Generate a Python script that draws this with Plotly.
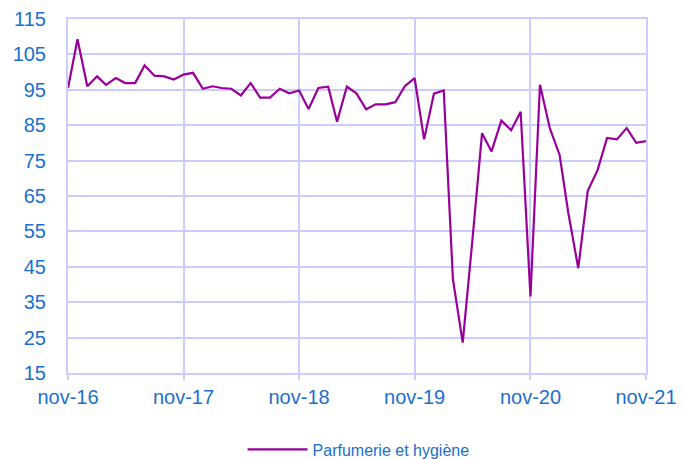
import plotly.graph_objects as go
import pandas as pd

months = pd.date_range("2016-11-01", "2021-11-01", freq="MS")
values = [
    95.5, 109.3,
    96.0, 98.8, 96.4, 98.3, 96.9, 96.9, 101.9, 99.0, 98.8, 97.9, 99.3, 99.8,
    95.3, 96.0, 95.5, 95.3, 93.4, 96.9, 92.8, 92.8, 95.3, 94.0, 94.8, 89.6,
    95.5, 95.9, 86.0, 95.9, 94.0, 89.5, 90.9, 90.9, 91.5, 96.0, 98.3, 81.0,
    93.9, 94.8, 41.5, 23.6, 52.0, 82.7, 77.6, 86.3, 83.6, 88.8, 36.6, 96.4,
    84.2, 76.6, 60.0, 44.6, 66.5, 72.3, 81.4, 81.0, 84.2, 80.0, 80.5,
]
series_name = "Parfumerie et hygiène"
x_tickvals = ["2016-11-01", "2017-11-01", "2018-11-01", "2019-11-01", "2020-11-01", "2021-11-01"]
x_ticktext = ["nov-16", "nov-17", "nov-18", "nov-19", "nov-20", "nov-21"]
y_tickvals = [15, 25, 35, 45, 55, 65, 75, 85, 95, 105, 115]

grid = "#ccccff"
blue = "#1a6fcf"
purple = "#990099"

fig = go.Figure()
fig.add_trace(go.Scatter(
    x=months, y=values, mode="lines", name=series_name,
    line=dict(color=purple, width=2.2),
))

# the page body adds an 8px margin, so the figure is 8px smaller and shifted
fig.update_layout(
    width=676, height=451,
    margin=dict(l=60, r=38, t=11, b=86, autoexpand=False),
    paper_bgcolor="white", plot_bgcolor="white",
    font=dict(family="Liberation Sans, Arial, sans-serif", color=blue),
    showlegend=True,
    legend=dict(
        orientation="h", x=0.302, xanchor="left", y=-0.168, yanchor="top",
        font=dict(size=16, color=blue), bgcolor="rgba(0,0,0,0)",
        itemwidth=60,
    ),
)
fig.update_xaxes(
    type="date", range=[x_tickvals[0], x_tickvals[-1]],
    tickmode="array", tickvals=x_tickvals, ticktext=x_ticktext,
    showgrid=True, gridcolor=grid, gridwidth=2,
    showline=True, linecolor=grid, linewidth=2, mirror=True,
    ticks="outside", ticklen=5, tickcolor=grid, tickwidth=2,
    tickfont=dict(size=20, color=blue), zeroline=False, automargin=False,
)
fig.update_yaxes(
    range=[15, 115], tickmode="array", tickvals=y_tickvals,
    showgrid=True, gridcolor=grid, gridwidth=2,
    showline=True, linecolor=grid, linewidth=2, mirror=True,
    ticks="", ticklabelstandoff=16,
    tickfont=dict(size=20, color=blue), zeroline=False, automargin=False,
)

fig.write_html("out.html")
